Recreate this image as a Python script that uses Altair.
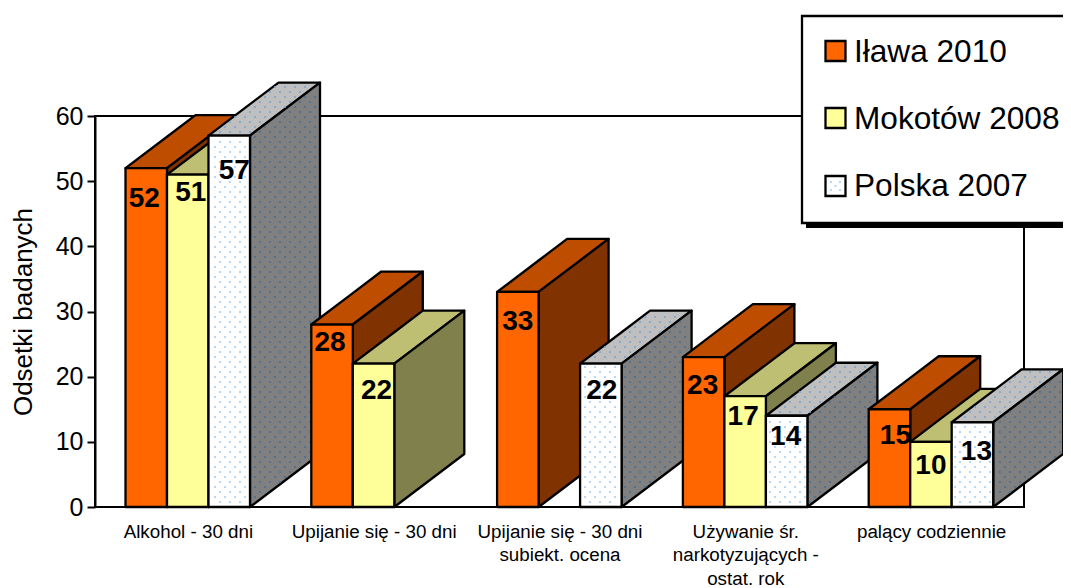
import altair as alt
import pandas as pd

# ---- values ----
CATEGORIES = ["Alkohol - 30 dni", "Upijanie się - 30 dni", "Upijanie się - 30 dni\nsubiekt. ocena",
              "Używanie śr.\nnarkotyzujących -\nostat. rok", "palący codziennie"]
SERIES = ["Iława 2010", "Mokotów 2008", "Polska 2007"]
ILAWA = [52, 28, 33, 23, 15]
MOKOTOW = [51, 22, None, 17, 10]
POLSKA = [57, None, 22, 14, 13]
VALUES = [ILAWA, MOKOTOW, POLSKA]

# ---- styling ----
FRONT = ["#FF6600", "#FFFF99", "#FFFFFF"]
TOP = ["#BF4D00", "#BFBF73", "#BFBFBF"]
SIDE = ["#803300", "#80804D", "#808080"]
DOT = {"front": "#A6CFF5", "top": "#7FA5CC", "side": "#4F6E8E"}
LABEL_NUDGE = [[(-2, 31), (3, 18), (5, 35)], [(-2, 18), (3, 27), None], [(0, 30), None, (1, 27)],
               [(-1, 29), (-2, 21), (-1, 21)], [(6, 27), (0, 24), (4, 30)]]

PW, PH = 929, 391
PX_X = 5 / PW      # data units per pixel
PX_Y = 60 / PH
BAR_W = 41.5 * PX_X
OFFSET = 30.5 * PX_X
DEPTH_X = 70 * PX_X
DEPTH_Y = 53 * PX_Y

xs = alt.Scale(domain=[0, 5], nice=False, zero=False)
ys = alt.Scale(domain=[0, 60], nice=False)
AX_X = alt.Axis(
    values=[0.5, 1.5, 2.5, 3.5, 4.5], title=None, domain=False, ticks=False,
    labelFontSize=18.8, labelColor="black", labelFont="Liberation Sans",
    labelPadding=24, labelLineHeight=23.5, labelOverlap=False, labelFlush=False,
    labelBaseline="middle", grid=False,
    labelExpr="split(" + str([c.replace("\n", "|") for c in CATEGORIES]) + "[floor(datum.value)], '|')")
AX_Y = alt.Axis(
    values=[0, 10, 20, 30, 40, 50, 60], title="Odsetki badanych", grid=False,
    domainColor="black", domainWidth=2, tickColor="black", tickWidth=2, tickSize=8,
    labelFontSize=25, labelColor="black", labelFont="Liberation Sans", labelPadding=4,
    titleFontSize=26, titleColor="black", titleFont="Liberation Sans",
    titleFontWeight="normal", titlePadding=19)
X = alt.X("x:Q", scale=xs, axis=AX_X)
Y = alt.Y("y:Q", scale=ys, axis=AX_Y)
STROKE = dict(stroke="black", strokeWidth=2.3, strokeJoin="round")


def area(points, fill):
    df = pd.DataFrame(points, columns=["x", "y", "y2"])
    return alt.Chart(df).mark_area(fill=fill, opacity=1, **STROKE).encode(
        x=X, y=Y, y2="y2:Q")


def lattice(x_lo, x_hi, y_lo, y_hi, inside):
    """Regular staggered dot fill, in pixels from the plot origin."""
    pts = []
    row = int(y_lo / PX_Y / 5) - 1
    while row * 5 * PX_Y <= y_hi:
        shift = 5 if row % 2 else 0
        col = int(x_lo / PX_X / 10) - 1
        while col * 10 * PX_X <= x_hi:
            px = (col * 10 + shift) * PX_X
            py = row * 5 * PX_Y
            if inside(px, py):
                pts.append((px, py))
            col += 1
        row += 1
    return pts


def dots(points, color):
    df = pd.DataFrame(points, columns=["x", "y"])
    return alt.Chart(df).mark_point(filled=True, size=5, color=color, opacity=1).encode(x=X, y=Y)


layers = []

labels = []
for g, cat in enumerate(CATEGORIES):
    for s, series in enumerate(VALUES):
        v = series[g]
        if v is None:
            continue
        x0 = g + OFFSET + s * BAR_W
        x1 = x0 + BAR_W
        top_pts = [(x0, v, v),
                   (x1, v, v + DEPTH_Y * BAR_W / DEPTH_X),
                   (x0 + DEPTH_X, v + DEPTH_Y * (DEPTH_X - BAR_W) / DEPTH_X, v + DEPTH_Y),
                   (x1 + DEPTH_X, v + DEPTH_Y, v + DEPTH_Y)]
        layers.append(area(top_pts, TOP[s]))
        side_pts = [(x1, 0, v), (x1 + DEPTH_X, DEPTH_Y, v + DEPTH_Y)]
        layers.append(area(side_pts, SIDE[s]))
        front = pd.DataFrame({"x": [x0], "x2": [x1], "y": [0], "y2": [v]})
        layers.append(alt.Chart(front).mark_rect(fill=FRONT[s], **STROKE).encode(
            x=X, x2="x2:Q", y=Y, y2="y2:Q"))
        if s == 2:
            slope = DEPTH_Y / DEPTH_X
            m = 2 * PX_X
            my = 2 * PX_Y
            layers.append(dots(lattice(x0, x1, 0, v,
                                       lambda a, b: x0 + m < a < x1 - m and my < b < v - my), DOT["front"]))
            layers.append(dots(lattice(x1, x1 + DEPTH_X, 0, v + DEPTH_Y,
                                       lambda a, b: x1 + m < a < x1 + DEPTH_X - m
                                       and (a - x1) * slope + my < b < v + (a - x1) * slope - my), DOT["side"]))
            layers.append(dots(lattice(x0, x1 + DEPTH_X, v, v + DEPTH_Y,
                                       lambda a, b: v + my < b < v + DEPTH_Y - my
                                       and x0 + (b - v) / slope + m < a < x1 + (b - v) / slope - m), DOT["top"]))
        ndx, ndy = LABEL_NUDGE[g][s]
        lab = pd.DataFrame({"x": [(x0 + x1) / 2], "y": [v], "t": [str(v)]})
        labels.append(alt.Chart(lab).mark_text(
            font="Liberation Sans", fontWeight="bold", fontSize=28, color="black",
            dx=ndx, dy=ndy, baseline="middle", align="center").encode(x=X, y=Y, text="t:N"))

layers.extend(labels)

# ---- legend box, positioned in pixels from the plot origin (95, 116) ----
OX, OY = 95, 116


def box(x, x2, y, y2, fill, stroke=None, width=2.3):
    kw = dict(fill=fill)
    if stroke:
        kw.update(stroke=stroke, strokeWidth=width)
    return alt.Chart(pd.DataFrame({"a": [0]})).mark_rect(**kw).encode(
        x=alt.value(x - OX), x2=alt.value(x2 - OX), y=alt.value(y - OY), y2=alt.value(y2 - OY))


layers.append(box(806, 1080, 20, 228, "black"))
layers.append(box(802, 1080, 16, 223, "white", "black"))
for name, fill, top_y, base in zip(SERIES, FRONT, [41, 108, 176], [62, 129, 196]):
    layers.append(box(825.5, 845.5, top_y, top_y + 20, fill, "black"))
    layers.append(alt.Chart(pd.DataFrame({"t": [name]})).mark_text(
        font="Liberation Sans", fontSize=31.6, color="black", align="left", baseline="alphabetic").encode(
        x=alt.value(854 - OX), y=alt.value(base - OY), text="t:N"))
for dx_, dy_ in [(831, 182), (840, 182), (831, 190), (840, 190), (835.5, 186)]:
    layers.append(alt.Chart(pd.DataFrame({"a": [0]})).mark_point(
        filled=True, size=5, color=DOT["front"], opacity=1).encode(
        x=alt.value(dx_ - OX), y=alt.value(dy_ - OY)))

chart = alt.layer(*layers).properties(
    width=PW, height=PH,
    autosize=alt.AutoSizeParams(type="none", contains="content"),
    padding={"left": 87, "top": 108, "right": 39, "bottom": 81},
    background="white",
).configure_view(stroke="black", strokeWidth=2)

chart.save("out.html", embed_options={"renderer": "svg", "actions": False})
